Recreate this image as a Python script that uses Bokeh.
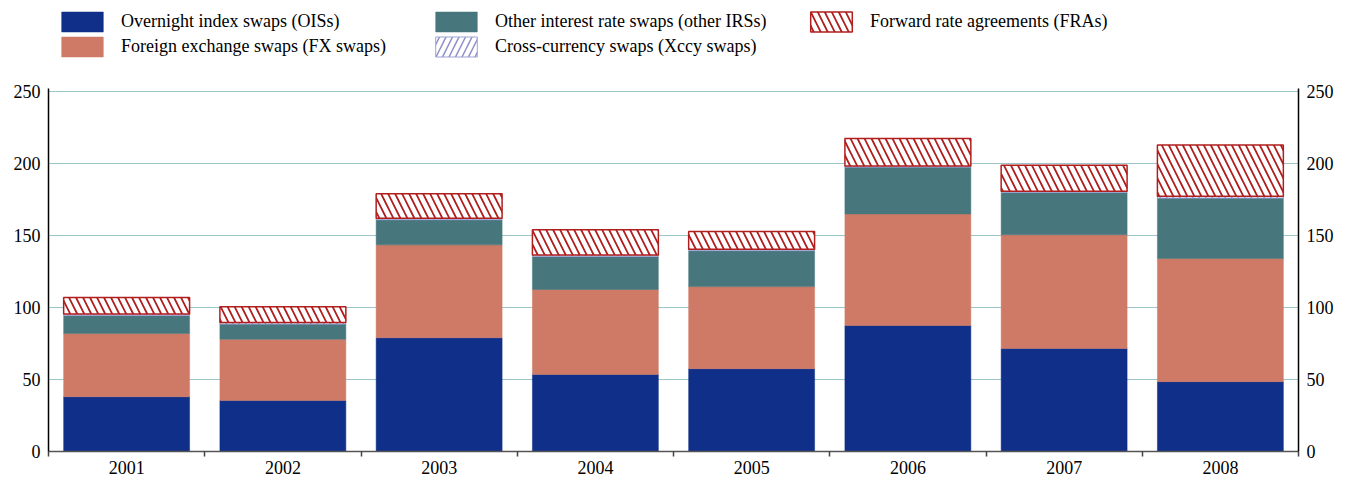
from bokeh.plotting import figure
from bokeh.models import (ColumnDataSource, Range1d, LinearAxis, FixedTicker,
                          Legend, LegendItem)
from bokeh.embed import file_html
from bokeh.resources import INLINE

years = ["2001", "2002", "2003", "2004", "2005", "2006", "2007", "2008"]
ois = [38, 35.5, 79, 53.5, 57.5, 87.5, 71.5, 48.5]
fx = [44, 42.5, 64.5, 59, 57, 77.5, 79, 85.5]
irs = [12.5, 10.5, 17.5, 23, 25, 32.5, 29.5, 42]
xccy = [1, 1, 1, 1, 1, 0.8, 0.8, 1.3]
fra = [11.5, 11, 17, 17.5, 12.3, 19, 18, 35.5]
y_ticks = [0, 50, 100, 150, 200, 250]

FONT = "Liberation Serif"
FS = "18px"

xs = [i + 0.5 for i in range(len(years))]
series = [ois, fx, irs, xccy, fra]
bottoms, tops = [], []
run = [0.0] * len(years)
for s in series:
    b = list(run)
    run = [r + v for r, v in zip(run, s)]
    bottoms.append(b)
    tops.append(list(run))

data = {"x": xs}
for k, (b, t) in enumerate(zip(bottoms, tops)):
    data[f"b{k}"] = b
    data[f"t{k}"] = t
src = ColumnDataSource(data)

# frame spans from the figure top down to the x axis; values above 250 are
# kept blank so the legend can live inside the frame area
FRAME_H = 451
YMAX = 250 * FRAME_H / 360.0

p = figure(width=1346, height=477, output_backend="svg", toolbar_location=None,
           x_range=Range1d(0, len(years)), y_range=Range1d(0, YMAX),
           min_border_left=48, min_border_right=48, min_border_top=0,
           min_border_bottom=26, outline_line_color=None)

W = 0.806
r_ois = p.vbar(x="x", bottom="b0", top="t0", width=W, source=src,
               fill_color="#0f2f89", line_color="#0f2f89", line_width=0.5)
r_fx = p.vbar(x="x", bottom="b1", top="t1", width=W, source=src,
              fill_color="#ce7a66", line_color="#ce7a66", line_width=0.5)
r_irs = p.vbar(x="x", bottom="b2", top="t2", width=W, source=src,
               fill_color="#47767c", line_color="#47767c", line_width=0.5)
r_xccy = p.vbar(x="x", bottom="b3", top="t3", width=W, source=src,
                fill_color="white", line_color="#9fa3d6", line_width=1,
                hatch_pattern="right_diagonal_line", hatch_color="#8c90c8",
                hatch_scale=13, hatch_weight=1.5)
r_fra = p.vbar(x="x", bottom="b4", top="t4", width=W, source=src,
               fill_color="white", line_color="#b01e1e", line_width=1.5,
               hatch_pattern="left_diagonal_line", hatch_color="#b01e1e",
               hatch_scale=14, hatch_weight=1.8)

# axes
p.xaxis.ticker = FixedTicker(ticks=xs, minor_ticks=list(range(0, len(years) + 1)))
p.xaxis.major_label_overrides = {x: y for x, y in zip(xs, years)}
p.xaxis.major_tick_line_color = None
p.xaxis.major_tick_out = 0
p.xaxis.minor_tick_out = 5
p.xaxis.minor_tick_in = 0
p.xaxis.minor_tick_line_color = "#444444"
p.xaxis.minor_tick_line_width = 1.5
p.xaxis.axis_line_color = "#555555"
p.xaxis.axis_line_width = 1.5
p.xaxis.major_label_standoff = 4
p.xaxis.major_label_text_font = FONT
p.xaxis.major_label_text_font_size = FS
p.xaxis.major_label_text_color = "black"

p.yaxis.ticker = FixedTicker(ticks=y_ticks)
right = LinearAxis(ticker=FixedTicker(ticks=y_ticks))
p.add_layout(right, "right")
for ax in [p.yaxis[0], right]:
    ax.bounds = (0, 252)
    ax.major_tick_line_color = None
    ax.minor_tick_line_color = None
    ax.major_tick_out = 0
    ax.axis_line_color = "black"
    ax.axis_line_width = 1.5
    ax.major_label_standoff = 8
    ax.major_label_text_font = FONT
    ax.major_label_text_font_size = FS
    ax.major_label_text_color = "black"

p.xgrid.grid_line_color = None
p.ygrid.ticker = FixedTicker(ticks=y_ticks[1:])
p.ygrid.grid_line_color = "#9cc5cc"
p.ygrid.grid_line_width = 1


def mk_legend(items, x, y):
    lg = Legend(items=items, location=(x, y), orientation="vertical",
                glyph_width=52, glyph_height=25, label_height=25,
                label_standoff=13, spacing=0, padding=0, margin=0,
                border_line_color=None, background_fill_alpha=0,
                label_text_font=FONT, label_text_font_size=FS,
                label_text_color="black")
    p.add_layout(lg, "center")


mk_legend([LegendItem(label="Overnight index swaps (OISs)", renderers=[r_ois]),
           LegendItem(label="Foreign exchange swaps (FX swaps)", renderers=[r_fx])],
          8, 392)
mk_legend([LegendItem(label="Other interest rate swaps (other IRSs)", renderers=[r_irs]),
           LegendItem(label="Cross-currency swaps (Xccy swaps)", renderers=[r_xccy])],
          382, 392)
mk_legend([LegendItem(label="Forward rate agreements (FRAs)", renderers=[r_fra])],
          757, 417)

open("out.html", "w").write(file_html(p, INLINE))
